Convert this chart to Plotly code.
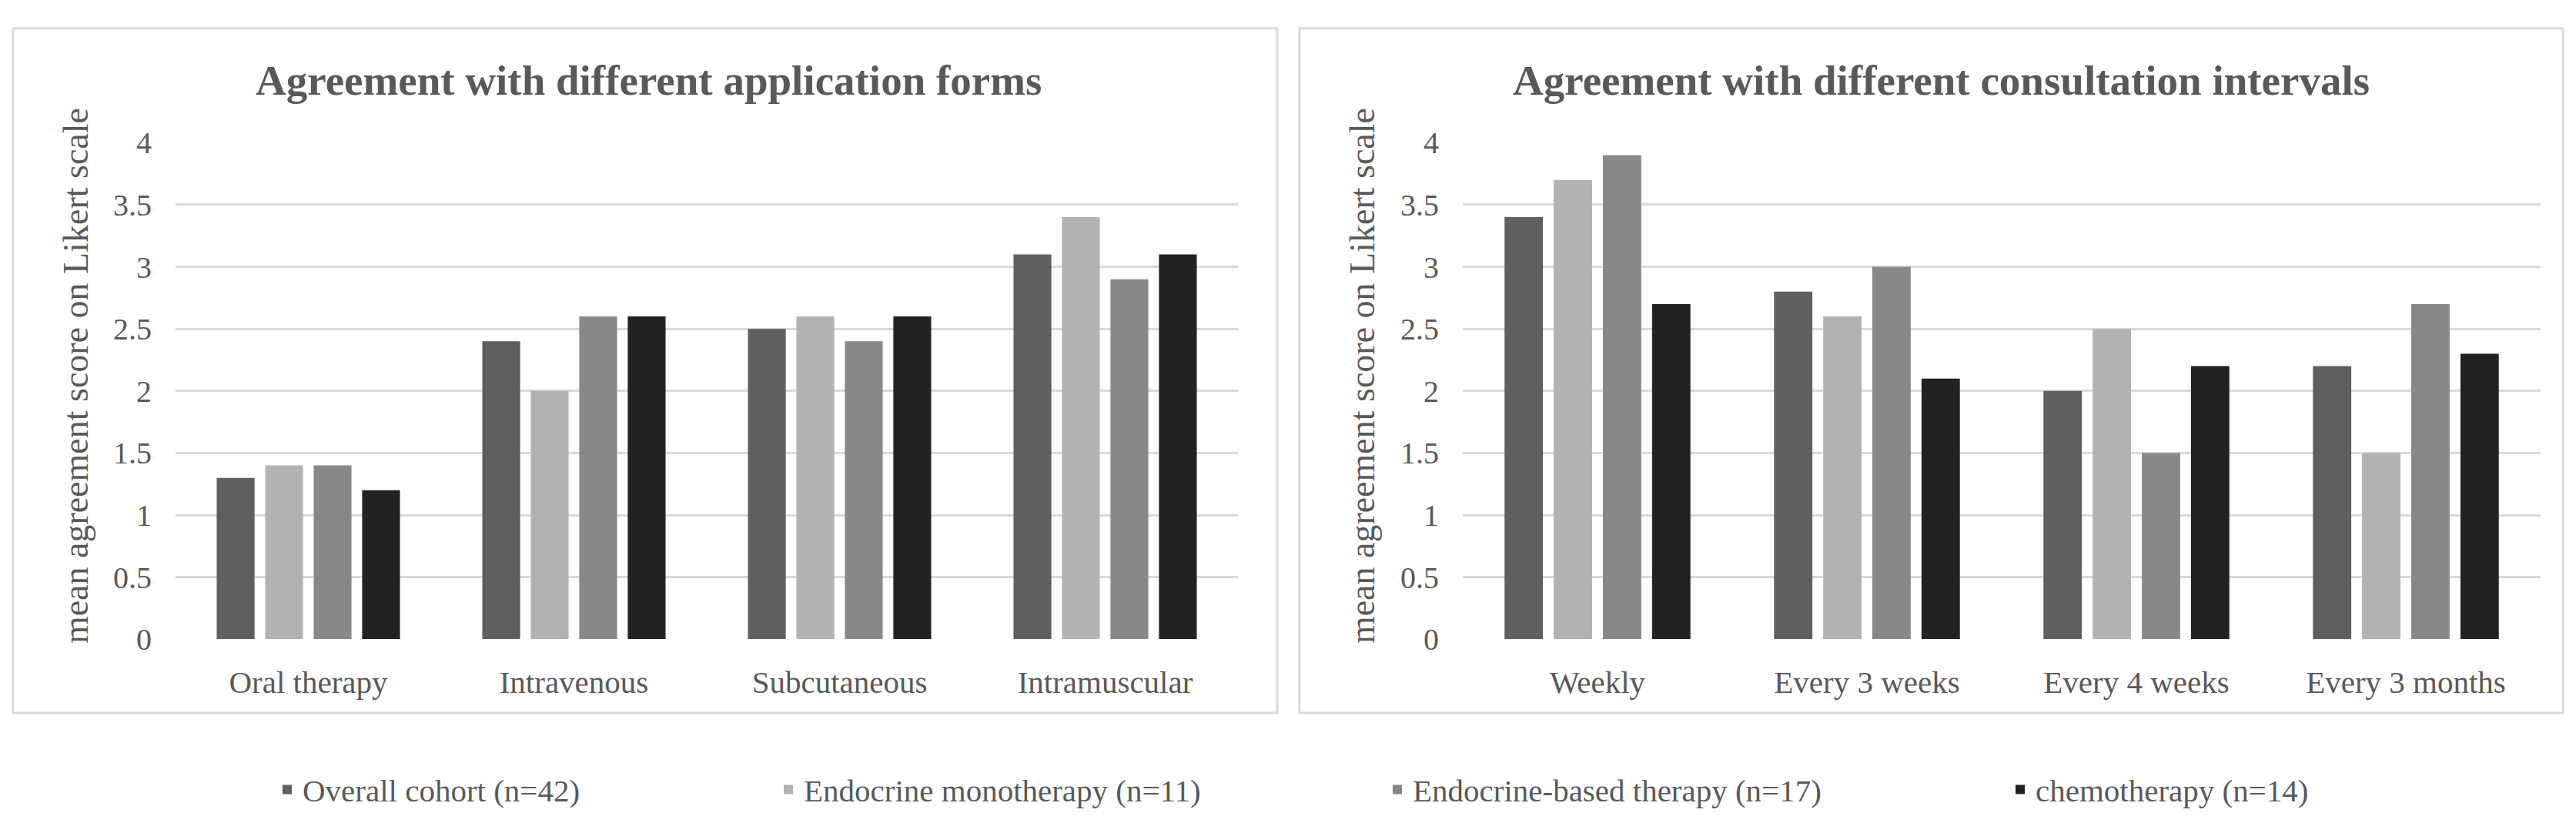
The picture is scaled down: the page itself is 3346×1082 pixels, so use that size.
import plotly.graph_objects as go
from plotly.subplots import make_subplots

W, H = 3346, 1082
PAGE_OFF = 8  # default body margin of the html page

forms = ["Oral therapy", "Intravenous", "Subcutaneous", "Intramuscular"]
intervals = ["Weekly", "Every 3 weeks", "Every 4 weeks", "Every 3 months"]

groups = [
    "Overall cohort (n=42)",
    "Endocrine monotherapy (n=11)",
    "Endocrine-based therapy (n=17)",
    "chemotherapy (n=14)",
]
colors = ["#5f5f5f", "#b2b2b2", "#888888", "#222222"]

# mean agreement per group, one list per group
forms_overall = [1.3, 2.4, 2.5, 3.1]
forms_mono = [1.4, 2.0, 2.6, 3.4]
forms_based = [1.4, 2.6, 2.4, 2.9]
forms_chemo = [1.2, 2.6, 2.6, 3.1]

intervals_overall = [3.4, 2.8, 2.0, 2.2]
intervals_mono = [3.7, 2.6, 2.5, 1.5]
intervals_based = [3.9, 3.0, 1.5, 2.7]
intervals_chemo = [2.7, 2.1, 2.2, 2.3]

y_ticks = [0, 0.5, 1, 1.5, 2, 2.5, 3, 3.5, 4]
y_ticktext = ["0", "0.5", "1", "1.5", "2", "2.5", "3", "3.5", "4"]

FONT = "Liberation Serif"
TXT = "#595959"
GRID = "#d9d9d9"


def px(v):
    # screen pixel -> paper x
    return (v - PAGE_OFF) / W


def py(v):
    # screen pixel -> paper y
    return 1 - (v - PAGE_OFF) / H


fig = make_subplots(rows=1, cols=2)

forms_vals = [forms_overall, forms_mono, forms_based, forms_chemo]
intervals_vals = [intervals_overall, intervals_mono, intervals_based, intervals_chemo]
legend_ids = ["legend", "legend2", "legend3", "legend4"]

for i, name in enumerate(groups):
    fig.add_trace(go.Bar(x=forms, y=forms_vals[i], name=name,
                         marker=dict(color=colors[i], line=dict(width=0)),
                         legend=legend_ids[i], showlegend=True),
                  row=1, col=1)
    fig.add_trace(go.Bar(x=intervals, y=intervals_vals[i], name=name,
                         marker=dict(color=colors[i], line=dict(width=0)),
                         showlegend=False),
                  row=1, col=2)

axis_y = dict(range=[0, 4], tickvals=y_ticks, ticktext=y_ticktext,
              showgrid=True, gridcolor=GRID, gridwidth=3,
              zeroline=False, showline=False, ticks="",
              ticklabelstandoff=30,
              tickfont=dict(family=FONT, size=40, color=TXT))
axis_x = dict(showgrid=False, zeroline=False, showline=False, ticks="",
              ticklabelstandoff=28,
              tickfont=dict(family=FONT, size=41, color=TXT))

fig.update_xaxes(axis_x)
fig.update_yaxes(axis_y)
fig.update_layout(
    xaxis=dict(domain=[px(228), px(1608)]),
    xaxis2=dict(domain=[px(1900), px(3300)]),
    yaxis=dict(domain=[py(843), py(170)]),
    yaxis2=dict(domain=[py(843), py(170)]),
)

legend_x = [353, 1004, 1795, 2604]
for lid, lx in zip(legend_ids, legend_x):
    fig.update_layout({lid: dict(
        x=px(lx), y=py(1047), xanchor="left", yanchor="middle",
        orientation="h", bgcolor="rgba(0,0,0,0)",
        font=dict(family=FONT, size=41, color=TXT),
    )})

# panel frames
for x0, x1 in [(17, 1659), (1688, 3329)]:
    fig.add_shape(type="rect", xref="paper", yref="paper",
                  x0=px(x0), x1=px(x1), y0=py(943), y1=py(15),
                  line=dict(color=GRID, width=3), fillcolor="rgba(0,0,0,0)",
                  layer="below")

# panel titles
titles = [("Agreement with different application forms", 842),
          ("Agreement with different consultation intervals", 2521)]
for text, cx in titles:
    fig.add_annotation(text="<b>" + text + "</b>", xref="paper", yref="paper",
                       x=px(cx), y=py(86), xanchor="center", yanchor="middle",
                       showarrow=False,
                       font=dict(family=FONT, size=55, color=TXT))

# y axis titles
for cx in [98, 1769]:
    fig.add_annotation(text="mean agreement score on Likert scale",
                       xref="paper", yref="paper",
                       x=px(cx), y=py(486), xanchor="center", yanchor="middle",
                       textangle=-90, showarrow=False,
                       font=dict(family=FONT, size=46, color=TXT))

fig.update_layout(
    width=W, height=H,
    margin=dict(l=0, r=0, t=0, b=0),
    barmode="group", bargap=0.27, bargroupgap=0.22,
    paper_bgcolor="white", plot_bgcolor="white",
    font=dict(family=FONT, color=TXT),
)

fig.write_html("out.html")
